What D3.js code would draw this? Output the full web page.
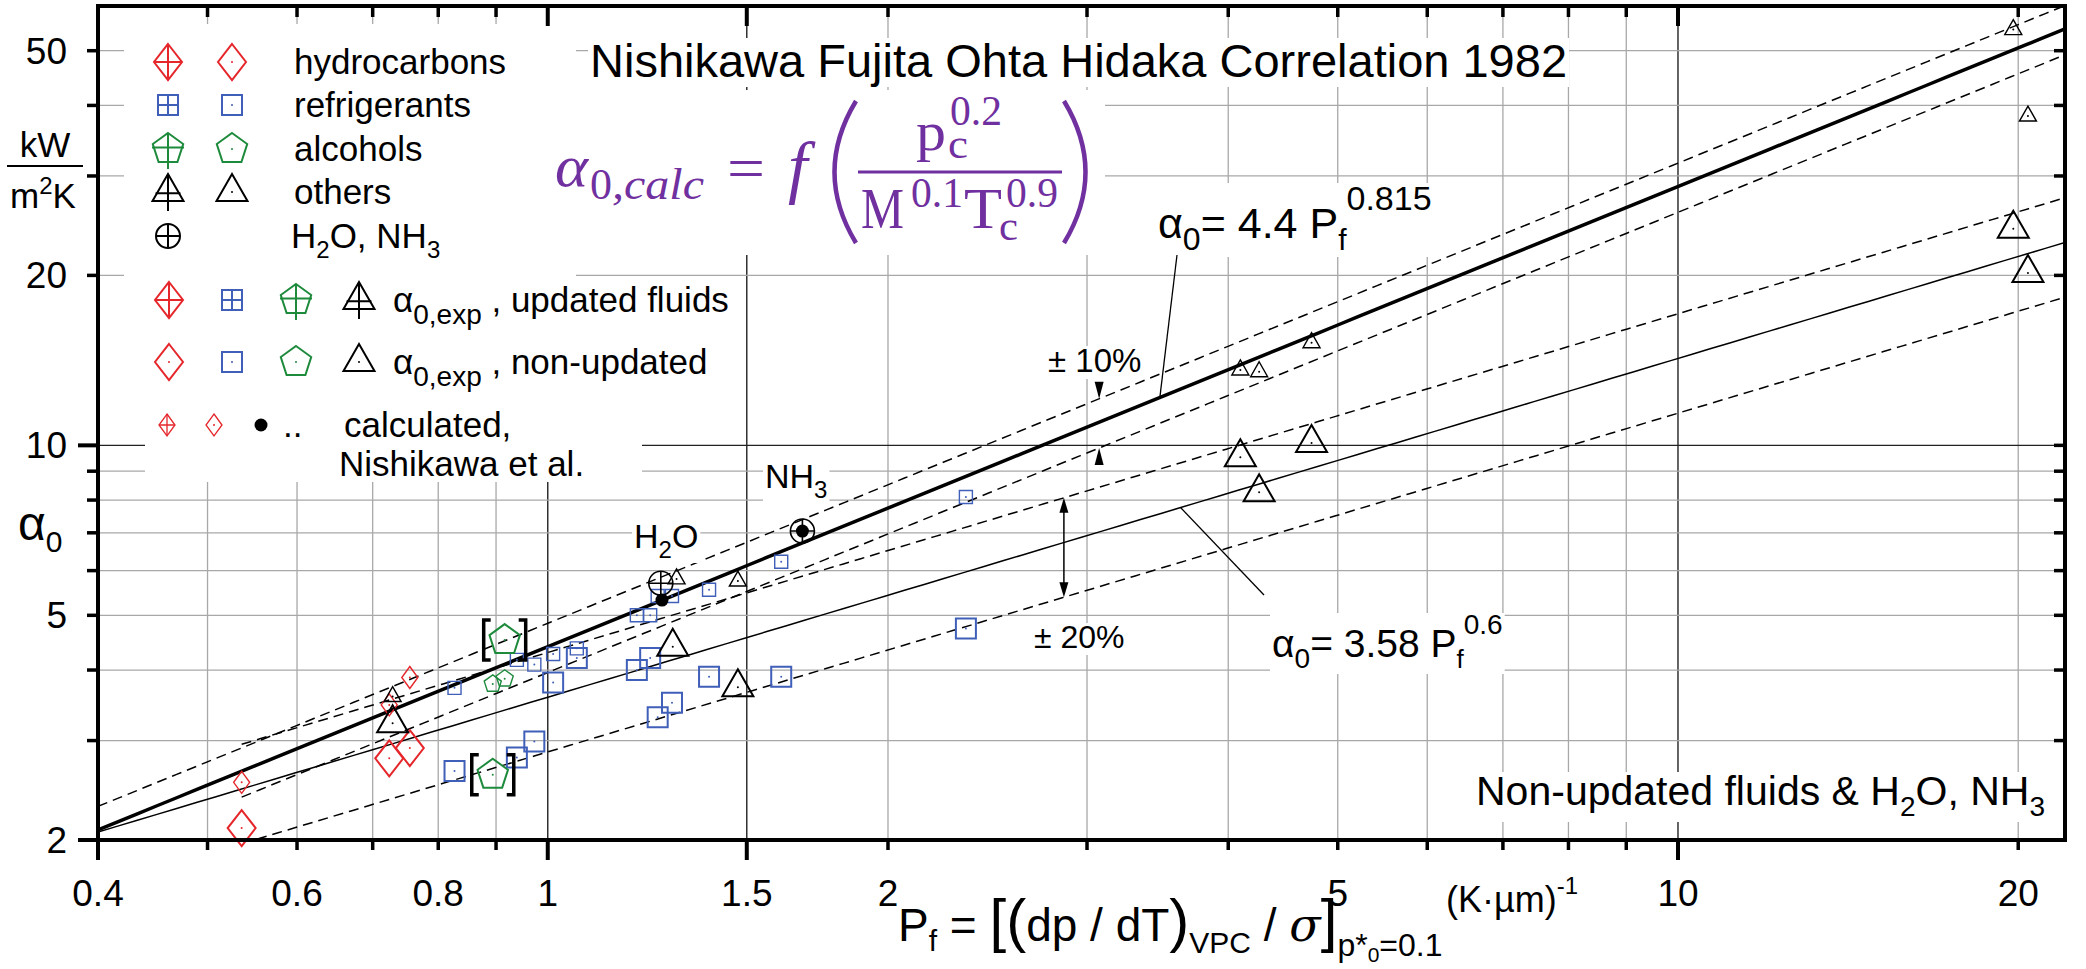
<!DOCTYPE html>
<html>
<head>
<meta charset="utf-8">
<script src="https://cdn.jsdelivr.net/npm/d3@7"></script>
<style>
body { margin: 0; background: #fff; }
svg { display: block; }
text { font-family: "Liberation Sans", Arial, sans-serif; fill: #000; }
.serif { font-family: "DejaVu Serif", "Liberation Serif", serif; }
.lserif { font-family: "Liberation Serif", "DejaVu Serif", serif; }
</style>
</head>
<body>
<svg id="chart" width="2086" height="969"></svg>
<script>
/* Nishikawa Fujita Ohta Hidaka correlation chart */

//tick values
var xTickLabels = [0.4, 0.6, 0.8, 1, 1.5, 2, 5, 10, 20];
var xTicksLong = [0.4, 1, 1.5, 10];
var xTicksShort = [0.5, 0.6, 0.7, 0.8, 0.9, 2, 3, 4, 5, 6, 7, 8, 9, 20];
var xGrid = [0.5, 0.6, 0.7, 0.8, 0.9, 1, 1.5, 2, 3, 4, 5, 6, 7, 8, 9, 10, 20];
var xGridDark = [1, 1.5, 10];
var yTickLabels = [2, 5, 10, 20, 50];
var yTicksLong = [2, 10];
var yTicksShort = [3, 4, 5, 6, 7, 8, 9, 20, 30, 40, 50];
var yGrid = [3, 4, 5, 6, 7, 8, 9, 10, 20, 30, 40, 50];
var yGridDark = [10];

//hydrocarbons [Pf, alpha0]
var hcExp = [[0.536, 2.10], [0.724, 2.79], [0.755, 2.91]];
var hcCalc = [[0.536, 2.53], [0.724, 3.47], [0.755, 3.88]];
//refrigerants
var refExp = [[0.827, 2.65], [0.939, 2.80], [0.973, 2.99], [1.011, 3.80], [1.061, 4.20], [1.199, 4.00],
              [1.232, 4.20], [1.251, 3.30], [1.288, 3.50], [1.389, 3.89], [1.609, 3.89], [2.344, 4.74]];
var refCalc = [[0.827, 3.72], [0.939, 4.17], [0.973, 4.09], [1.011, 4.27], [1.061, 4.37], [1.199, 5.0],
               [1.232, 5.0], [1.251, 5.41], [1.288, 5.41], [1.389, 5.55], [1.609, 6.22], [2.344, 8.1]];
//alcohols (bracketed values)
var alcExp = [[0.916, 4.52], [0.894, 2.61]];
var alcCalc = [[0.894, 3.78], [0.916, 3.86]];
//others
var othExp = [[0.729, 3.22], [1.29, 4.40], [1.473, 3.73], [4.10, 9.53], [4.26, 8.26], [4.74, 10.1], [19.8, 24.2], [20.4, 20.2]];
var othCalc = [[0.729, 3.59], [1.30, 5.8], [1.473, 5.75], [4.10, 13.6], [4.26, 13.5], [4.74, 15.2], [19.8, 54.5], [20.4, 38.3]];
//H2O, NH3
var waterExp = [[1.259, 5.70], [1.68, 7.05]];
var waterCalc = [[1.262, 5.32], [1.68, 7.05]];

//correlation lines: alpha0 = c * Pf^n, factor, start of line
var corrLines = [
    {c: 4.4, n: 0.815, f: 1.0, from: 0.4, width: 3.5, dash: null},
    {c: 4.4, n: 0.815, f: 1.1, from: 0.4, width: 1.5, dash: "10,6"},
    {c: 4.4, n: 0.815, f: 0.9, from: 0.536, width: 1.5, dash: "10,6"},
    {c: 3.58, n: 0.6, f: 1.0, from: 0.4, width: 1.5, dash: null},
    {c: 3.58, n: 0.6, f: 1.2, from: 0.536, width: 1.5, dash: "10,6"},
    {c: 3.58, n: 0.6, f: 0.8, from: 0.536, width: 1.5, dash: "10,6"}
];

var RED = "#e5262b", BLUE = "#3f5fb8", GREEN = "#1d8a3c", PURPLE = "#7030a0";

var svg = d3.select("#chart");
var L = 98, R = 2065, T = 6, B = 840;

var x = d3.scaleLog().domain([0.4, 22]).range([L, R]);
var y = d3.scaleLog().domain([2, 60]).range([B, T]);

svg.append("defs").append("clipPath").attr("id", "plot")
    .append("rect").attr("x", L).attr("y", T).attr("width", R - L).attr("height", B - T);

//grid lines
var grid = svg.append("g");
grid.selectAll(".gx").data(xGrid).enter().append("line")
    .attr("x1", d => x(d)).attr("x2", d => x(d)).attr("y1", T).attr("y2", B)
    .attr("stroke", d => xGridDark.indexOf(d) >= 0 ? "#222" : "#a8a8a8")
    .attr("stroke-width", d => xGridDark.indexOf(d) >= 0 ? 1.4 : 1.3);
grid.selectAll(".gy").data(yGrid).enter().append("line")
    .attr("x1", L).attr("x2", R).attr("y1", d => y(d)).attr("y2", d => y(d))
    .attr("stroke", d => yGridDark.indexOf(d) >= 0 ? "#222" : "#a8a8a8")
    .attr("stroke-width", d => yGridDark.indexOf(d) >= 0 ? 1.4 : 1.3);

//white areas behind legend and formula
var bg = svg.append("g").attr("fill", "#fff");
bg.append("rect").attr("x", 124).attr("y", 24).attr("width", 452).attr("height", 398);
bg.append("rect").attr("x", 145).attr("y", 400).attr("width", 497).attr("height", 82);
bg.append("rect").attr("x", 545).attr("y", 90).attr("width", 560).attr("height", 165);

//helper: text with white box behind
function boxedText(g, xx, yy, size, parts, anchor, pad){
    var t = g.append("text").attr("x", xx).attr("y", yy).attr("font-size", size)
        .attr("text-anchor", anchor || "start");
    parts.forEach(function(p){
        var s = t.append("tspan").text(p.t);
        if (p.dy) s.attr("dy", p.dy);
        if (p.size) s.attr("font-size", p.size);
    });
    var b = t.node().getBBox();
    pad = pad == null ? 3 : pad;
    g.insert("rect", "text").attr("x", b.x - pad).attr("y", b.y + 4).attr("width", b.width + 2 * pad)
        .attr("height", b.height - 4).attr("fill", "#fff");
    return t;
}

//correlation lines
var lines = svg.append("g").attr("clip-path", "url(#plot)");
corrLines.forEach(function(c){
    var pts = d3.range(0, 101).map(function(i){
        var v = c.from * Math.pow(22 / c.from, i / 100);
        return [v, c.f * c.c * Math.pow(v, c.n)];
    });
    lines.append("path")
        .attr("d", d3.line().x(d => x(d[0])).y(d => y(d[1]))(pts))
        .attr("fill", "none").attr("stroke", "#000")
        .attr("stroke-width", c.width)
        .attr("stroke-dasharray", c.dash);
});

//marker shapes
function markerPath(type, big){
    var p = d3.path();
    if (type == "diamond"){
        var w = big ? 14 : 8, h = big ? 18 : 11;
        p.moveTo(0, -h); p.lineTo(w, 0); p.lineTo(0, h); p.lineTo(-w, 0); p.closePath();
    } else if (type == "square"){
        var s = big ? 10 : 6.5;
        p.rect(-s, -s, 2 * s, 2 * s);
    } else if (type == "pentagon"){
        var r = big ? 16 : 9;
        for (var i = 0; i < 5; i++){
            var a = -Math.PI / 2 + i * 2 * Math.PI / 5;
            if (i == 0) p.moveTo(r * Math.cos(a), r * Math.sin(a)); else p.lineTo(r * Math.cos(a), r * Math.sin(a));
        }
        p.closePath();
    } else if (type == "triangle"){
        var tw = big ? 15.5 : 8.5, th = big ? 27 : 15;
        p.moveTo(0, -th * 2 / 3); p.lineTo(tw, th / 3); p.lineTo(-tw, th / 3); p.closePath();
    } else if (type == "circle"){
        var cr = big ? 12 : 7;
        p.arc(0, 0, cr, 0, 2 * Math.PI); p.closePath();
    }
    return p.toString();
}
function crossPath(type, big){
    if (type == "diamond"){
        var w = big ? 14 : 8, h = big ? 18 : 11;
        return "M0," + (-h) + "V" + h + "M" + (-w) + ",0H" + w;
    } else if (type == "square"){
        var s = big ? 10 : 6.5;
        return "M0," + (-s) + "V" + s + "M" + (-s) + ",0H" + s;
    } else if (type == "pentagon"){
        var r = big ? 16 : 9;
        return "M0," + (-r) + "V" + (r + 4) + "M" + (-r) + "," + (-r * 0.1) + "H" + r;
    } else if (type == "triangle"){
        var tw = big ? 15.5 : 8.5, th = big ? 27 : 15;
        return "M0," + (-th * 2 / 3) + "V" + (th / 3 + 10) + "M" + (-tw * 0.8) + "," + (th * 0.05) + "H" + (tw * 0.8);
    } else {
        var cr = big ? 12 : 7;
        return "M0," + (-cr) + "V" + cr + "M" + (-cr) + ",0H" + cr;
    }
}
function drawMarker(g, type, cx, cy, color, big, crossed, dot, sw){
    var m = g.append("g").attr("transform", "translate(" + cx + "," + cy + ")");
    m.append("path").attr("d", markerPath(type, big)).attr("fill", "none")
        .attr("stroke", color).attr("stroke-width", sw || (big ? 2 : 1.4));
    if (crossed) m.append("path").attr("d", crossPath(type, big)).attr("fill", "none")
        .attr("stroke", color).attr("stroke-width", sw || (big ? 2 : 1.4));
    if (dot) m.append("circle").attr("r", 1).attr("fill", color);
    return m;
}

//data markers
var marks = svg.append("g");
function plotSeries(data, type, color, big, crossed){
    data.forEach(function(d){
        drawMarker(marks, type, x(d[0]), y(d[1]), color, big, crossed, !crossed);
    });
}
plotSeries(refCalc, "square", BLUE, false, false);
plotSeries(alcCalc, "pentagon", GREEN, false, false);
plotSeries(hcCalc, "diamond", RED, false, false);
plotSeries(othCalc, "triangle", "#000", false, false);
plotSeries(refExp, "square", BLUE, true, false);
plotSeries(alcExp, "pentagon", GREEN, true, false);
plotSeries(hcExp, "diamond", RED, true, false);
plotSeries(othExp, "triangle", "#000", true, false);
waterExp.forEach(function(d){ drawMarker(marks, "circle", x(d[0]), y(d[1]), "#000", true, true, false, 1.6); });
waterCalc.forEach(function(d){ marks.append("circle").attr("cx", x(d[0])).attr("cy", y(d[1])).attr("r", 6.5).attr("fill", "#000"); });

//brackets around alcohol values
alcExp.forEach(function(d){
    var cx = x(d[0]), cy = y(d[1]);
    marks.append("path")
        .attr("d", "M" + (cx - 14) + "," + (cy - 20) + "h-7v40h7M" + (cx + 14) + "," + (cy - 20) + "h7v40h-7")
        .attr("fill", "none").attr("stroke", "#000").attr("stroke-width", 3.5);
});

//axes frame and ticks
var ax = svg.append("g").attr("stroke", "#000");
ax.append("rect").attr("x", L).attr("y", T).attr("width", R - L).attr("height", B - T)
    .attr("fill", "none").attr("stroke-width", 4);
ax.selectAll(".tl").data(xTicksLong).enter().append("line")
    .attr("x1", d => x(d)).attr("x2", d => x(d)).attr("y1", B).attr("y2", B + 20).attr("stroke-width", 4);
ax.selectAll(".ts").data(xTicksShort).enter().append("line")
    .attr("x1", d => x(d)).attr("x2", d => x(d)).attr("y1", B).attr("y2", B + 10).attr("stroke-width", 3.5);
ax.selectAll(".ttl").data(xTicksLong).enter().append("line")
    .attr("x1", d => x(d)).attr("x2", d => x(d)).attr("y1", T).attr("y2", T + 20).attr("stroke-width", 4);
ax.selectAll(".tts").data(xTicksShort).enter().append("line")
    .attr("x1", d => x(d)).attr("x2", d => x(d)).attr("y1", T).attr("y2", T + 11).attr("stroke-width", 3.5);
ax.selectAll(".yl").data(yTicksLong).enter().append("line")
    .attr("x1", L - 20).attr("x2", L).attr("y1", d => y(d)).attr("y2", d => y(d)).attr("stroke-width", 4);
ax.selectAll(".ys").data(yTicksShort).enter().append("line")
    .attr("x1", L - 11).attr("x2", L).attr("y1", d => y(d)).attr("y2", d => y(d)).attr("stroke-width", 3.5);
ax.selectAll(".yr").data(yTicksShort.concat(yTicksLong)).enter().append("line")
    .attr("x1", R - 11).attr("x2", R).attr("y1", d => y(d)).attr("y2", d => y(d)).attr("stroke-width", 3.5);

//tick labels
svg.append("g").selectAll("text").data(xTickLabels).enter().append("text")
    .attr("x", d => x(d)).attr("y", 906).attr("text-anchor", "middle").attr("font-size", 37)
    .text(d => d);
svg.append("g").selectAll("text").data(yTickLabels).enter().append("text")
    .attr("x", 67).attr("y", d => y(d) + 13).attr("text-anchor", "end").attr("font-size", 37)
    .text(d => d);

//axis titles
var lab = svg.append("g");
lab.append("text").attr("x", 45).attr("y", 157).attr("text-anchor", "middle").attr("font-size", 35).text("kW");
lab.append("line").attr("x1", 7).attr("x2", 83).attr("y1", 166).attr("y2", 166).attr("stroke", "#000").attr("stroke-width", 2);
var mk = lab.append("text").attr("x", 43).attr("y", 208).attr("text-anchor", "middle").attr("font-size", 35);
mk.append("tspan").text("m");
mk.append("tspan").attr("dy", -14).attr("font-size", 24).text("2");
mk.append("tspan").attr("dy", 14).text("K");
var a0 = lab.append("text").attr("x", 18).attr("y", 540).attr("font-size", 48);
a0.append("tspan").text("α");
a0.append("tspan").attr("dy", 12).attr("font-size", 30).text("0");

var xt = lab.append("text").attr("x", 898).attr("y", 941).attr("font-size", 46);
xt.append("tspan").text("P");
xt.append("tspan").attr("dy", 10).attr("font-size", 30).text("f");
xt.append("tspan").attr("dy", -10).text(" = ");
xt.append("tspan").attr("font-size", 60).text("[(");
xt.append("tspan").text("dp / dT");
xt.append("tspan").attr("font-size", 60).text(")");
xt.append("tspan").attr("dy", 12).attr("font-size", 30).text("VPC");
xt.append("tspan").attr("dy", -12).text(" / ");
xt.append("tspan").attr("class", "serif").attr("font-style", "italic").text("σ");
xt.append("tspan").attr("font-size", 60).text("]");
xt.append("tspan").attr("dy", 15).attr("font-size", 32).text("p*");
xt.append("tspan").attr("dy", 6).attr("font-size", 21).text("0");
xt.append("tspan").attr("dy", -6).attr("font-size", 32).text("=0.1");

var ku = lab.append("text").attr("x", 1446).attr("y", 912).attr("font-size", 36);
ku.append("tspan").text("(K·µm)");
ku.append("tspan").attr("dy", -18).attr("font-size", 24).text("-1");

//title
var tg = svg.append("g");
boxedText(tg, 590, 77, 47, [{t: "Nishikawa Fujita Ohta Hidaka Correlation 1982"}], "start", 2);

//formula, each piece placed with its width (w = 0 keeps natural width)
var fg = svg.append("g");
var formulaParts = [
    {t: "α", x: 555, y: 186, size: 60, w: 33, it: true},
    {t: "0", x: 590, y: 199, size: 44, w: 22, it: false},
    {t: ",calc", x: 612, y: 199, size: 44, w: 92, it: true},
    {t: "=", x: 727, y: 188, size: 60, w: 38, it: false},
    {t: "f", x: 788, y: 190, size: 70, w: 0, it: true},
    {t: "p", x: 916, y: 150, size: 54, w: 30, it: false},
    {t: "c", x: 948, y: 158, size: 42, w: 20, it: false},
    {t: "0.2", x: 950, y: 125, size: 42, w: 52, it: false},
    {t: "M", x: 861, y: 228, size: 56, w: 43, it: false},
    {t: "0.1", x: 911, y: 207, size: 42, w: 52, it: false},
    {t: "T", x: 964, y: 228, size: 56, w: 38, it: false},
    {t: "c", x: 999, y: 240, size: 42, w: 19, it: false},
    {t: "0.9", x: 1006, y: 207, size: 42, w: 52, it: false}
];
formulaParts.forEach(function(p){
    var t = fg.append("text").attr("class", "lserif").attr("x", p.x).attr("y", p.y)
        .attr("font-size", p.size).attr("font-style", p.it ? "italic" : "normal")
        .style("fill", PURPLE).text(p.t);
    if (p.w) t.attr("textLength", p.w).attr("lengthAdjust", "spacingAndGlyphs");
});
fg.append("path").attr("d", "M856,101 Q813,172 856,243").attr("fill", "none").attr("stroke", PURPLE).attr("stroke-width", 4.5);
fg.append("path").attr("d", "M1064,101 Q1107,172 1064,243").attr("fill", "none").attr("stroke", PURPLE).attr("stroke-width", 4.5);
fg.append("line").attr("x1", 858).attr("x2", 1062).attr("y1", 172).attr("y2", 172).attr("stroke", PURPLE).attr("stroke-width", 3);

//legend
var lg = svg.append("g");
var legRows = [
    {type: "diamond", color: RED, label: "hydrocarbons", yy: 62},
    {type: "square", color: BLUE, label: "refrigerants", yy: 105},
    {type: "pentagon", color: GREEN, label: "alcohols", yy: 149},
    {type: "triangle", color: "#000", label: "others", yy: 192}
];
legRows.forEach(function(r){
    drawMarker(lg, r.type, 168, r.yy, r.color, true, true, false, 2);
    drawMarker(lg, r.type, 232, r.yy, r.color, true, false, true, 2);
    lg.append("text").attr("x", 294).attr("y", r.yy + 12).attr("font-size", 35).text(r.label);
});
drawMarker(lg, "circle", 168, 236, "#000", true, true, false, 2);
var hw = lg.append("text").attr("x", 291).attr("y", 248).attr("font-size", 35);
hw.append("tspan").text("H");
hw.append("tspan").attr("dy", 10).attr("font-size", 24).text("2");
hw.append("tspan").attr("dy", -10).text("O, NH");
hw.append("tspan").attr("dy", 10).attr("font-size", 24).text("3");

var expRows = [{crossed: true, label: ", updated fluids", yy: 300}, {crossed: false, label: ", non-updated", yy: 362}];
expRows.forEach(function(r){
    drawMarker(lg, "diamond", 169, r.yy, RED, true, r.crossed, !r.crossed, 2);
    drawMarker(lg, "square", 232, r.yy, BLUE, true, r.crossed, !r.crossed, 2);
    drawMarker(lg, "pentagon", 296, r.yy, GREEN, true, r.crossed, !r.crossed, 2);
    drawMarker(lg, "triangle", 359, r.yy, "#000", true, r.crossed, !r.crossed, 2);
    var t = lg.append("text").attr("x", 393).attr("y", r.yy + 12).attr("font-size", 35);
    t.append("tspan").text("α");
    t.append("tspan").attr("dy", 12).attr("font-size", 28).text("0,exp");
    t.append("tspan").attr("dy", -12).text(" " + r.label);
});
drawMarker(lg, "diamond", 167, 425, RED, false, true, false, 1.3);
drawMarker(lg, "diamond", 214, 425, RED, false, false, true, 1.3);
lg.append("circle").attr("cx", 261).attr("cy", 425).attr("r", 6.5).attr("fill", "#000");
lg.append("text").attr("x", 283).attr("y", 437).attr("font-size", 35).text("..");
lg.append("text").attr("x", 344).attr("y", 437).attr("font-size", 35).text("calculated,");
lg.append("text").attr("x", 339).attr("y", 476).attr("font-size", 35).text("Nishikawa et al.");

//annotations
var an = svg.append("g");
boxedText(an, 1158, 238, 43, [{t: "α"}, {t: "0", dy: 12, size: 32}, {t: "= 4.4 P", dy: -12}, {t: "f", dy: 12, size: 30}, {t: "0.815", dy: -40, size: 34}], "start", 2);
boxedText(an, 1272, 657, 39, [{t: "α"}, {t: "0", dy: 11, size: 28}, {t: "= 3.58 P", dy: -11}, {t: "f", dy: 11, size: 26}, {t: "0.6", dy: -34, size: 28}], "start", 2);
boxedText(an, 1048, 372, 33, [{t: "± 10%"}], "start", 2);
boxedText(an, 1034, 648, 32, [{t: "± 20%"}], "start", 2);
boxedText(an, 2045, 805, 41, [{t: "Non-updated fluids & H"}, {t: "2", dy: 11, size: 28}, {t: "O, NH", dy: -11}, {t: "3", dy: 11, size: 28}], "end", 2);
boxedText(an, 634, 548, 34, [{t: "H"}, {t: "2", dy: 10, size: 24}, {t: "O", dy: -10}], "start", 2);
boxedText(an, 765, 488, 34, [{t: "NH"}, {t: "3", dy: 10, size: 24}], "start", 2);

//leader lines
var pA = 3.48, pB = 3.63;
an.append("line").attr("x1", 1177).attr("y1", 255).attr("x2", x(pA)).attr("y2", y(4.4 * Math.pow(pA, 0.815)))
    .attr("stroke", "#000").attr("stroke-width", 1.3);
an.append("line").attr("x1", 1264).attr("y1", 595).attr("x2", x(pB)).attr("y2", y(3.58 * Math.pow(pB, 0.6)))
    .attr("stroke", "#000").attr("stroke-width", 1.3);

//arrows for +-10%
var pC = 3.075, xc = x(pC);
var yUp = y(1.1 * 4.4 * Math.pow(pC, 0.815)), yLo = y(0.9 * 4.4 * Math.pow(pC, 0.815));
an.append("path").attr("d", "M" + (xc - 4.5) + "," + (yUp - 17) + "H" + (xc + 4.5) + "L" + xc + "," + yUp + "Z");
an.append("path").attr("d", "M" + (xc - 4.5) + "," + (yLo + 17) + "H" + (xc + 4.5) + "L" + xc + "," + yLo + "Z");

//double arrow for +-20%
var pD = 2.862, xd = x(pD);
var y20a = y(1.2 * 3.58 * Math.pow(pD, 0.6)), y20b = y(0.8 * 3.58 * Math.pow(pD, 0.6));
an.append("line").attr("x1", xd).attr("x2", xd).attr("y1", y20a + 10).attr("y2", y20b - 10).attr("stroke", "#000").attr("stroke-width", 1.5);
an.append("path").attr("d", "M" + (xd - 4.5) + "," + (y20a + 15) + "H" + (xd + 4.5) + "L" + xd + "," + y20a + "Z");
an.append("path").attr("d", "M" + (xd - 4.5) + "," + (y20b - 15) + "H" + (xd + 4.5) + "L" + xd + "," + y20b + "Z");
</script>
</body>
</html>
